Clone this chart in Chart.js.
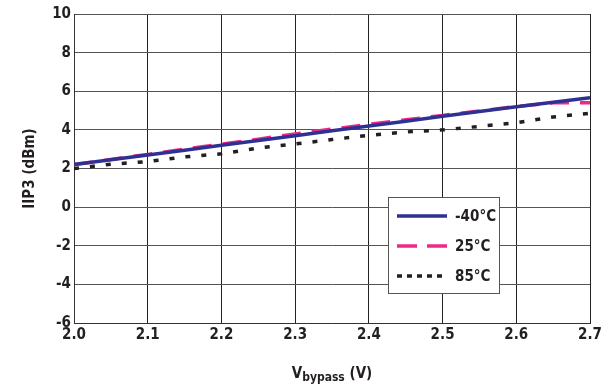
<!DOCTYPE html>
<html>
<head>
<meta charset="utf-8">
<script src="https://cdn.jsdelivr.net/npm/chart.js@4/dist/chart.umd.min.js"></script>
<style>
  html, body { margin: 0; padding: 0; background: #fff; }
  canvas { display: block; }
</style>
</head>
<body>
<canvas id="iip3-chart" width="611" height="387"></canvas>
<script>
// bypass voltage (V)
const voltages = [2.0, 2.05, 2.1, 2.15, 2.2, 2.25, 2.3, 2.35, 2.4, 2.45, 2.5, 2.55, 2.6, 2.65, 2.7];
// IIP3 (dBm) per temperature
const iip3Minus40 = [2.2, 2.45, 2.7, 2.95, 3.2, 3.45, 3.7, 3.95, 4.2, 4.45, 4.7, 4.95, 5.2, 5.43, 5.67];
const iip3Plus25 = [2.2, 2.47, 2.73, 3.0, 3.26, 3.52, 3.79, 4.04, 4.29, 4.52, 4.75, 4.98, 5.21, 5.4, 5.4];
const iip3Plus85 = [2.0, 2.22, 2.36, 2.6, 2.76, 3.06, 3.27, 3.5, 3.72, 3.89, 4.0, 4.18, 4.37, 4.67, 4.86];
const seriesLabels = ["-40°C", "25°C", "85°C"];
const yTicks = [-6, -4, -2, 0, 2, 4, 6, 8, 10];

const FONT = "'Liberation Sans Narrow', 'DejaVu Sans Condensed', 'Liberation Sans', sans-serif";
const TEXT = "#231f20";

function pts(ys) {
  return voltages.map(function (v, i) { return { x: v, y: ys[i] }; });
}

const legendStyles = [
  { color: "#2e3192", dash: [], width: 3.5 },
  { color: "#ec2a8c", dash: [20, 10], width: 3.5 },
  { color: "#231f20", dash: [5, 5], width: 3.5 },
];

const extras = {
  id: "extras",
  afterDraw: function (chart) {
    const ctx = chart.ctx;
    const area = chart.chartArea;
    ctx.save();
    ctx.fillStyle = TEXT;

    // y title
    ctx.font = "bold 15px " + FONT;
    ctx.textAlign = "center";
    ctx.textBaseline = "middle";
    ctx.translate(30, (area.top + area.bottom) / 2);
    ctx.rotate(-Math.PI / 2);
    ctx.fillText("IIP3 (dBm)", 0, 0);
    ctx.setTransform(1, 0, 0, 1, 0, 0);

    // x title with subscript
    const base = 378;
    ctx.textBaseline = "alphabetic";
    ctx.textAlign = "left";
    ctx.font = "bold 15px " + FONT;
    const wV = ctx.measureText("V").width;
    const wTail = ctx.measureText(" (V)").width;
    ctx.font = "bold 12px " + FONT;
    const wSub = ctx.measureText("bypass").width;
    let x = (area.left + area.right) / 2 - (wV + wSub + wTail) / 2;
    ctx.font = "bold 15px " + FONT;
    ctx.fillText("V", x, base);
    x += wV;
    ctx.font = "bold 12px " + FONT;
    ctx.fillText("bypass", x, base + 3);
    x += wSub;
    ctx.font = "bold 15px " + FONT;
    ctx.fillText(" (V)", x, base);

    // legend box
    const bx = 388, by = 197, bw = 111, bh = 96;
    ctx.fillStyle = "#fff";
    ctx.fillRect(bx, by, bw, bh);
    ctx.strokeStyle = "#555";
    ctx.lineWidth = 1;
    ctx.strokeRect(bx + 0.5, by + 0.5, bw, bh);
    ctx.textBaseline = "middle";
    ctx.font = "bold 15px " + FONT;
    seriesLabels.forEach(function (label, i) {
      const yy = 216 + i * 30;
      const st = legendStyles[i];
      ctx.strokeStyle = st.color;
      ctx.lineWidth = st.width;
      ctx.setLineDash(st.dash);
      ctx.beginPath();
      ctx.moveTo(397, yy);
      ctx.lineTo(447, yy);
      ctx.stroke();
      ctx.setLineDash([]);
      ctx.fillStyle = TEXT;
      ctx.fillText(label, 455, yy + 1);
    });
    ctx.restore();
  },
};

document.addEventListener("DOMContentLoaded", function () {
  const ctx = document.getElementById("iip3-chart").getContext("2d");
  new Chart(ctx, {
    type: "line",
    data: {
      datasets: [
        {
          label: seriesLabels[0],
          data: pts(iip3Minus40),
          borderColor: "#2e3192",
          borderWidth: 3.5,
          pointRadius: 0,
          fill: false,
        },
        {
          label: seriesLabels[1],
          data: pts(iip3Plus25),
          borderColor: "#ec2a8c",
          borderWidth: 3.5,
          borderDash: [19, 11],
          pointRadius: 0,
          fill: false,
        },
        {
          label: seriesLabels[2],
          data: pts(iip3Plus85),
          borderColor: "#231f20",
          borderWidth: 3.5,
          borderDash: [5, 11],
          pointRadius: 0,
          fill: false,
        },
      ],
    },
    options: {
      responsive: false,
      animation: false,
      devicePixelRatio: 1,
      layout: { padding: { top: 14, right: 21, left: 0, bottom: 0 } },
      plugins: { legend: { display: false }, tooltip: { enabled: false } },
      scales: {
        x: {
          type: "linear",
          min: 2.0,
          max: 2.7,
          afterFit: function (s) { s.height = 64; },
          afterBuildTicks: function (s) {
            s.ticks = voltages.filter(function (v, i) { return i % 2 === 0; }).map(function (v) { return { value: v }; });
          },
          ticks: {
            callback: function (v) { return Number(v).toFixed(1); },
            font: { family: FONT, size: 15, weight: "bold" },
            color: TEXT,
            padding: 3,
            maxRotation: 0,
          },
          grid: { color: "#222", lineWidth: 1, drawTicks: false },
          border: { color: "#333", width: 1 },
        },
        y: {
          min: -6,
          max: 10,
          afterFit: function (s) { s.width = 74; },
          afterBuildTicks: function (s) {
            s.ticks = yTicks.map(function (v) { return { value: v }; });
          },
          ticks: {
            font: { family: FONT, size: 15, weight: "bold" },
            color: TEXT,
            padding: 3,
          },
          grid: { color: "#555", lineWidth: 1, drawTicks: false },
          border: { color: "#333", width: 1 },
        },
      },
    },
    plugins: [extras],
  });
});
</script>
</body>
</html>
